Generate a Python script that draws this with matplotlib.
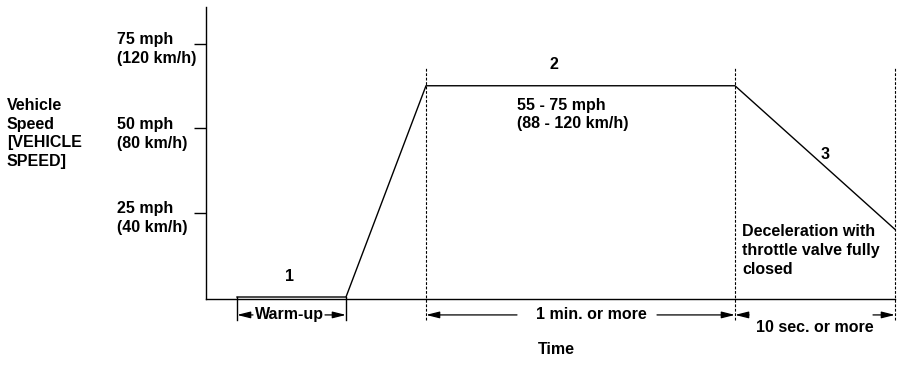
import matplotlib.pyplot as plt
import matplotlib.transforms as mtransforms

plt.rcParams['font.family'] = ['Liberation Sans', 'DejaVu Sans']
plt.rcParams['font.size'] = 11.5
plt.rcParams['font.weight'] = 'bold'

# --- Data (time in arbitrary units, speed in mph) ---
time_pts = [31, 140, 220, 529, 689]
speed_pts = [0, 0, 62.5, 62.5, 20]
tick_speeds = [25, 50, 75]
tick_labels = ["25 mph\n(40 km/h)", "50 mph\n(80 km/h)", "75 mph\n(120 km/h)"]
phase_bounds = [220, 529, 689]          # dashed phase boundaries
warmup_bounds = [31, 140]

fig = plt.figure(figsize=(9.05, 3.65), dpi=100)
ax = fig.add_axes([206 / 905, 66.3 / 365, 689 / 905, 291.7 / 365])
ax.set_xlim(0, 689)
ax.set_ylim(-0.5, 85.8)

for s in ['top', 'right']:
    ax.spines[s].set_visible(False)
ax.spines['left'].set_linewidth(1.0)
ax.spines['bottom'].set_linewidth(1.0)

# speed profile
ax.plot(time_pts, speed_pts, color='black', lw=1.0, clip_on=False)

# y ticks with custom labels
ax.set_xticks([])
ax.set_yticks(tick_speeds)
ax.set_yticklabels([])
ax.tick_params(axis='y', direction='out', length=9, width=1.0)
lab_tr = ax.get_yaxis_transform() + mtransforms.ScaledTranslation(0, 11.5 / 100, fig.dpi_scale_trans)
for v, lab in zip(tick_speeds, tick_labels):
    ax.text(-0.129, v, lab, transform=lab_tr, ha='left', va='top',
            linespacing=1.36, clip_on=False)

fig.text(7 / 905, 1 - 98 / 365, "Vehicle\nSpeed\n[VEHICLE\nSPEED]",
         ha='left', va='top', linespacing=1.3)

# phase boundaries
for x in phase_bounds:
    ax.plot([x, x], [-6.8, 68.0], color='black', lw=0.8,
            linestyle=(0, (2.5, 1.5)), clip_on=False)
for x in warmup_bounds:
    ax.plot([x, x], [0, -6.8], color='black', lw=1.0, clip_on=False)

# dimension arrows
arr = dict(arrowstyle='-|>,head_length=0.8,head_width=0.2', color='black',
           lw=0.9, shrinkA=0, shrinkB=0, mutation_scale=10)
arrow_y = -5.3
arrows = [(47, 31), (119, 140), (311, 220), (451, 529), (543, 529), (667, 689)]
for x0, x1 in arrows:
    ax.annotate('', xy=(x1, arrow_y), xytext=(x0, arrow_y),
                arrowprops=arr, annotation_clip=False)

ax.text(83, arrow_y, "Warm-up", ha='center', va='center')
ax.text(385, arrow_y, "1 min. or more", ha='center', va='center')
ax.text(609, -8.9, "10 sec. or more", ha='center', va='center')
ax.text(350, -15.4, "Time", ha='center', va='center', clip_on=False)

# phase labels
ax.text(83, 6.0, "1", ha='center', va='center')
ax.text(348, 68.9, "2", ha='center', va='center')
ax.text(619, 42.3, "3", ha='center', va='center')
ax.text(311, 59.0, "55 - 75 mph\n(88 - 120 km/h)", ha='left', va='top',
        linespacing=1.3)
ax.text(536, 21.5, "Deceleration with\nthrottle valve fully\nclosed",
        ha='left', va='top', linespacing=1.3)

fig.savefig("out.png", dpi=100)
